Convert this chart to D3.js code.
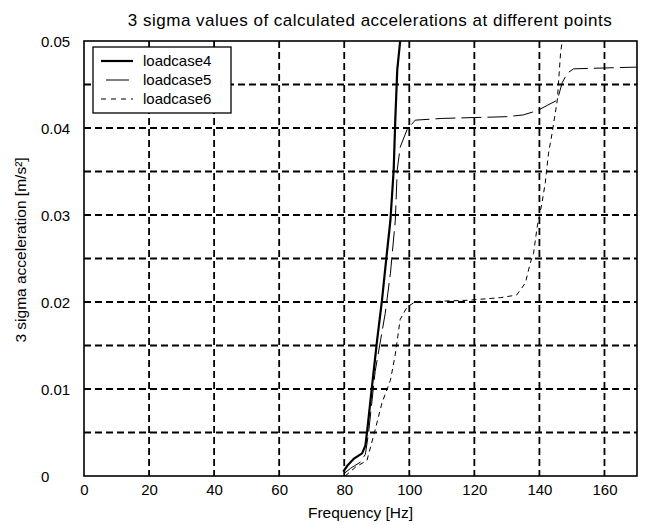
<!DOCTYPE html>
<html>
<head>
<meta charset="utf-8">
<script src="https://cdn.jsdelivr.net/npm/d3@7"></script>
<style>
  body { margin: 0; background: #fff; }
  svg text { font-family: "Liberation Sans", Arial, sans-serif; fill: #000; }
</style>
</head>
<body>
<svg id="chart"></svg>
<script>
// values
const freq4 = [79.7, 81, 83, 85.5, 86.5, 87, 88.5, 90.1, 91.6, 93.1, 94.2, 95.2, 95.7, 96.3, 97.2];
const acc4  = [0.0005, 0.0012, 0.0020, 0.0026, 0.0035, 0.0050, 0.0102, 0.0156, 0.0202, 0.0256, 0.0294, 0.0352, 0.0410, 0.0467, 0.0500];

const freq5 = [80, 82, 85, 86.5, 87.5, 89.5, 92.6, 94.2, 95.7, 96.3, 97.2, 99.3, 101.8, 110, 120, 130, 135, 139.4, 142.4, 145.5, 147, 148.6, 150.5, 160, 170];
const acc5  = [0.0003, 0.0009, 0.0016, 0.0025, 0.0050, 0.0120, 0.0187, 0.0233, 0.0294, 0.0352, 0.0378, 0.0398, 0.0409, 0.0411, 0.0412, 0.0413, 0.0415, 0.0420, 0.0426, 0.0432, 0.0452, 0.0463, 0.0468, 0.0469, 0.0470];

const freq6 = [80.3, 83.4, 87, 89.5, 91.6, 94.2, 95.7, 97.2, 99.3, 101.3, 110, 118, 128, 133, 135.7, 137.2, 138.2, 139.3, 140.8, 141.8, 142.8, 143.9, 145.5, 146.5, 147];
const acc6  = [0, 0.0010, 0.0018, 0.0053, 0.0084, 0.0110, 0.0140, 0.0180, 0.0194, 0.0199, 0.0201, 0.0202, 0.0205, 0.0208, 0.0222, 0.0245, 0.0256, 0.0286, 0.0314, 0.0337, 0.0371, 0.0394, 0.0432, 0.0486, 0.0500];

const seriesNames = ["loadcase4", "loadcase5", "loadcase6"];
const xTicks = [0, 20, 40, 60, 80, 100, 120, 140, 160];
const yTicks = [0, 0.01, 0.02, 0.03, 0.04, 0.05];
const yTickLabels = ["0", "0.01", "0.02", "0.03", "0.04", "0.05"];
const yGrid = [0.005, 0.01, 0.015, 0.02, 0.025, 0.03, 0.035, 0.04, 0.045];
const xGrid = [20, 40, 60, 80, 100, 120, 140, 160];

const width = 646, height = 525;
const margin = { top: 41, right: 9, bottom: 49, left: 84 };
const w = width - margin.left - margin.right;
const h = height - margin.top - margin.bottom;

const svg = d3.select("#chart").attr("width", width).attr("height", height);

const x = d3.scaleLinear().domain([0, 170]).range([0, w]);
const y = d3.scaleLinear().domain([0, 0.05]).range([h, 0]);

const g = svg.append("g").attr("transform", `translate(${margin.left},${margin.top})`);

svg.append("defs").append("clipPath").attr("id", "plotclip")
  .append("rect").attr("width", w).attr("height", h);

// grid
const grid = g.append("g").attr("class", "grid");
grid.selectAll("line.v").data(xGrid).join("line").attr("class", "v")
  .attr("x1", d => x(d)).attr("x2", d => x(d))
  .attr("y1", 0).attr("y2", h);
grid.selectAll("line.h").data(yGrid).join("line").attr("class", "h")
  .attr("x1", 0).attr("x2", w)
  .attr("y1", d => y(d)).attr("y2", d => y(d));
grid.selectAll("line")
  .attr("stroke", "#000").attr("stroke-width", 1.8)
  .attr("stroke-dasharray", "7,4");

// axes
const xAxis = g.append("g").attr("transform", `translate(0,${h})`)
  .call(d3.axisBottom(x).tickValues(xTicks).tickSize(0).tickPadding(8));
const yAxis = g.append("g")
  .call(d3.axisLeft(y).tickValues(yTicks).tickSize(0).tickFormat((d, i) => yTickLabels[i]));
[xAxis, yAxis].forEach(a => {
  a.select(".domain").remove();
  a.selectAll("text").style("font-size", "15px");
});
yAxis.selectAll("text").attr("text-anchor", "start").attr("x", -43).attr("dy", "0.36em");

// frame
g.append("rect").attr("width", w).attr("height", h)
  .attr("fill", "none").attr("stroke", "#000").attr("stroke-width", 1.6);

const line = d3.line().x(d => x(d[0])).y(d => y(d[1]));
const styles = [
  { width: 2.2, dash: null },
  { width: 1, dash: "20,6" },
  { width: 1, dash: "5,4" }
];
const series = [
  d3.zip(freq4, acc4),
  d3.zip(freq5, acc5),
  d3.zip(freq6, acc6)
];

g.append("g").attr("clip-path", "url(#plotclip)")
  .selectAll("path").data(series).join("path")
  .attr("d", line)
  .attr("fill", "none").attr("stroke", "#000")
  .attr("stroke-width", (d, i) => styles[i].width)
  .attr("stroke-dasharray", (d, i) => styles[i].dash);

// legend
const leg = g.append("g").attr("transform", "translate(9,6)");
leg.append("rect").attr("width", 138).attr("height", 66)
  .attr("fill", "#fff").attr("stroke", "#000").attr("stroke-width", 1.3);
const sample = [[8, 40, null], [13, 36, null], [8, 40, "5,5"]];
seriesNames.forEach((name, i) => {
  const yy = 14 + i * 19;
  leg.append("line").attr("x1", sample[i][0]).attr("x2", sample[i][1]).attr("y1", yy).attr("y2", yy)
    .attr("stroke", "#000").attr("stroke-width", styles[i].width)
    .attr("stroke-dasharray", sample[i][2]);
  leg.append("text").attr("x", 50).attr("y", yy).attr("dy", "0.35em")
    .style("font-size", "15px").text(name);
});

// titles
svg.append("text").attr("x", 370).attr("y", 26)
  .attr("text-anchor", "middle").style("font-size", "17px").style("letter-spacing", "0.5px")
  .text("3 sigma values of calculated accelerations at different points");
svg.append("text").attr("x", margin.left + w / 2).attr("y", 518)
  .attr("text-anchor", "middle").style("font-size", "15.5px")
  .text("Frequency [Hz]");
svg.append("text").attr("transform", "translate(26,250) rotate(-90)")
  .attr("text-anchor", "middle").style("font-size", "15.5px")
  .text("3 sigma acceleration [m/s²]");
</script>
</body>
</html>
